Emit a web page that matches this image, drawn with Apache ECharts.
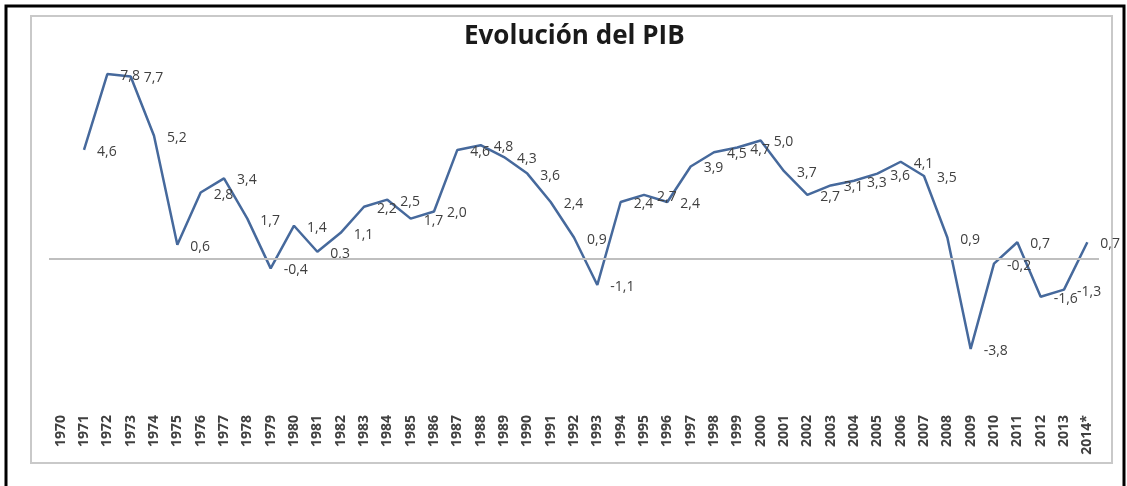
<!DOCTYPE html>
<html>
<head>
<meta charset="utf-8">
<title>Evolución del PIB</title>
<script src="https://cdn.jsdelivr.net/npm/echarts@6/dist/echarts.min.js"></script>
<style>
  html, body { margin: 0; padding: 0; background: #fff; }
  #chart { width: 1127px; height: 486px; }
</style>
</head>
<body>
<div id="chart"></div>
<script>
// años (1970 sin dato)
const years = ['1970', '1971', '1972', '1973', '1974', '1975', '1976', '1977', '1978', '1979',
  '1980', '1981', '1982', '1983', '1984', '1985', '1986', '1987', '1988', '1989',
  '1990', '1991', '1992', '1993', '1994', '1995', '1996', '1997', '1998', '1999',
  '2000', '2001', '2002', '2003', '2004', '2005', '2006', '2007', '2008', '2009',
  '2010', '2011', '2012', '2013', '2014*']

// crecimiento del PIB (%)
const pib = [null, 4.6, 7.8, 7.7, 5.2, 0.6, 2.8, 3.4, 1.7, -0.4,
  1.4, 0.3, 1.1, 2.2, 2.5, 1.7, 2.0, 4.6, 4.8, 4.3,
  3.6, 2.4, 0.9, -1.1, 2.4, 2.7, 2.4, 3.9, 4.5, 4.7,
  5.0, 3.7, 2.7, 3.1, 3.3, 3.6, 4.1, 3.5, 0.9, -3.8,
  -0.2, 0.7, -1.6, -1.3, 0.7]

const myChart = echarts.init(document.getElementById('chart'))

let option = {
  animation: false,
  title: {
    text: 'Evolución del PIB',
    left: 459,
    top: 19,
    textStyle: {
      fontFamily: 'Open Sans',
      fontWeight: 'bold',
      fontSize: 26,
      color: '#1a1a1a'
    }
  },
  graphic: [
    {
      // marco exterior negro
      type: 'rect',
      shape: { x: 6, y: 6, width: 1118, height: 520 },
      style: { fill: null, stroke: '#000', lineWidth: 3 },
      z: 0
    },
    {
      // marco gris del gráfico
      type: 'rect',
      shape: { x: 31, y: 16, width: 1081, height: 447 },
      style: { fill: null, stroke: '#c9c9c9', lineWidth: 2 },
      z: 0
    }
  ],
  grid: {
    left: 49,
    right: 28,
    top: 22,
    bottom: 85
  },
  xAxis: {
    type: 'category',
    data: years,
    boundaryGap: true,
    axisLine: { show: false },
    axisTick: { show: false },
    axisLabel: {
      rotate: 90,
      margin: 14,
      interval: 0,
      fontFamily: 'Open Sans',
      fontWeight: 'bold',
      fontSize: 14,
      color: '#404040'
    }
  },
  yAxis: {
    type: 'value',
    min: -6,
    max: 10,
    show: false
  },
  series: [
    {
      type: 'line',
      data: pib,
      symbol: 'circle',
      symbolSize: 0,
      showSymbol: true,
      lineStyle: { color: '#46699c', width: 2.5 },
      itemStyle: { color: '#46699c' },
      label: {
        show: true,
        position: 'right',
        distance: 13,
        offset: [0, 2],
        fontFamily: 'Open Sans',
        fontSize: 14,
        color: '#404040',
        formatter: (p) => (p.value == null ? '' : p.value.toFixed(1).replace('.', ','))
      },
      markLine: {
        silent: true,
        symbol: 'none',
        label: { show: false },
        lineStyle: { color: '#bfbfbf', width: 2, type: 'solid' },
        data: [{ yAxis: 0 }]
      }
    }
  ]
}

myChart.setOption(option)
</script>
</body>
</html>
